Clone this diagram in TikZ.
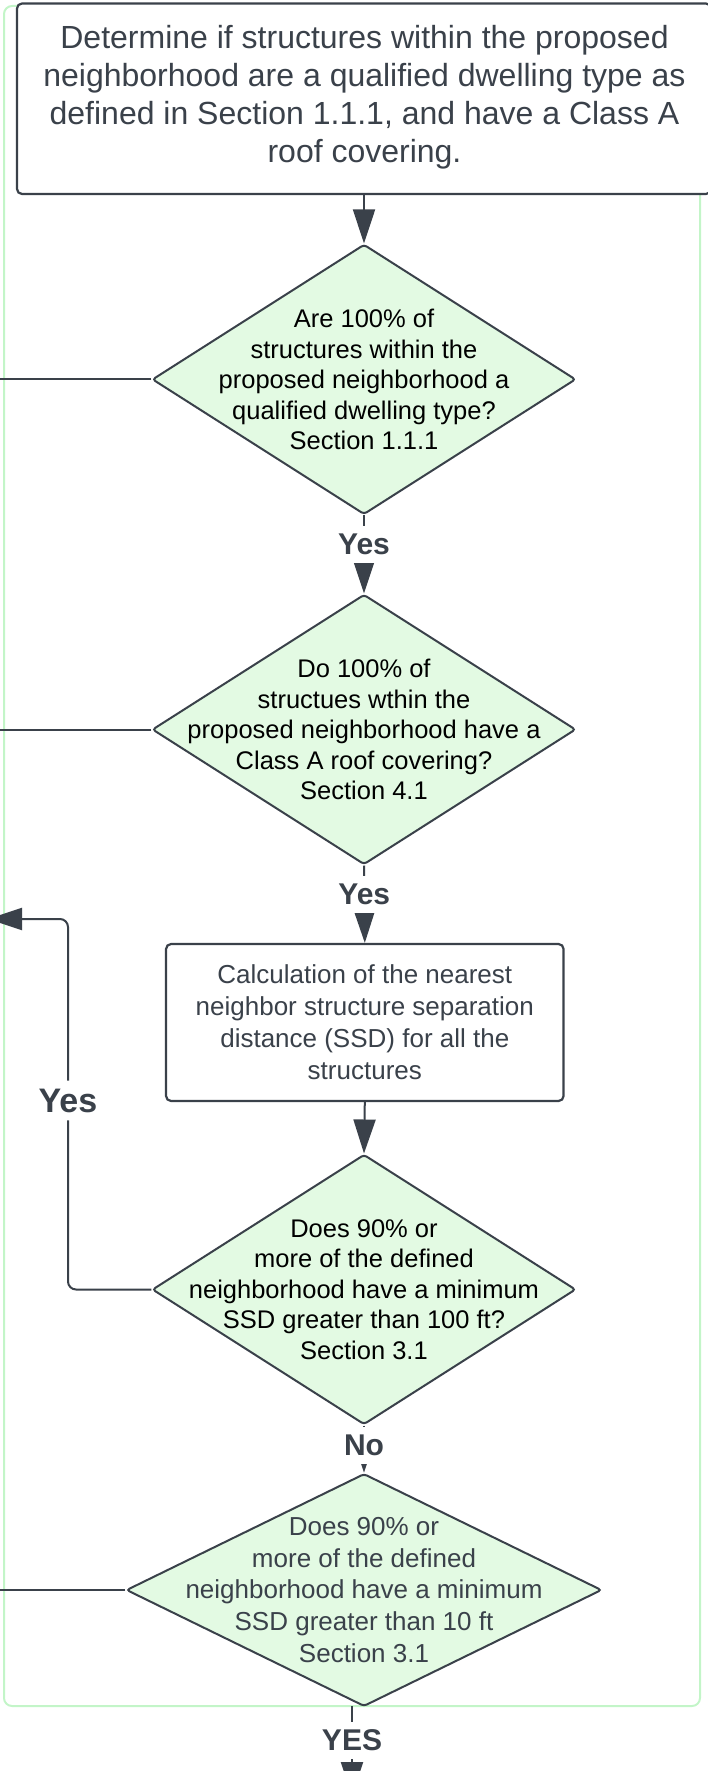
\documentclass[tikz,border=0pt]{standalone}
\usepackage{fontspec}
\setmainfont{Liberation Sans}
\usetikzlibrary{arrows.meta,shapes.geometric}
\definecolor{ink}{RGB}{58,65,74}
\definecolor{dfill}{RGB}{227,250,227}
\definecolor{framegreen}{RGB}{195,245,200}
\begin{document}
\begin{tikzpicture}[x=1pt,y=-1pt,
  conn/.style={draw=ink, line width=2pt, -{Triangle[length=34pt,width=22pt]}},
  plain/.style={draw=ink, line width=2pt},
  dia/.style={diamond, draw=ink, line width=2pt, fill=dfill, minimum width=423.5pt, minimum height=270pt, inner sep=0pt, rounded corners=3pt},
  dtext/.style={align=center, font=\fontsize{25.5}{30.5}\selectfont, text=black, inner sep=0pt},
  proc/.style={rectangle, draw=ink, line width=2.2pt, fill=white, rounded corners=5pt, inner sep=0pt},
  lbl/.style={fill=white, inner xsep=5pt, inner ysep=8pt, font=\fontsize{30}{30}\selectfont\bfseries, text=ink}
]
\useasboundingbox (0,0) rectangle (708,1771);
\clip (0,0) rectangle (708,1771);
% container frame
\draw[framegreen, line width=2pt, rounded corners=8pt] (4,6) rectangle (700,1706);

% top box
\node[proc, minimum width=694pt, minimum height=190.5pt] (top) at (364,98.75) {};
\node[align=center, font=\fontsize{32}{38}\selectfont, text=ink, inner sep=0pt] (toptext) at (364.5,97)
  {Determine if structures within the proposed\\neighborhood are a qualified dwelling type as\\defined in Section 1.1.1, and have a Class A\\roof covering.};

% diamond 1
\node[dia] (d1) at (364,379.4) {};
\node[dtext] (d1t) at (d1.center) {Are 100\% of\\structures within the\\proposed neighborhood a\\qualified dwelling type?\\Section 1.1.1};

% diamond 2
\node[dia] (d2) at (364,729.5) {};
\node[dtext] (d2t) at (d2.center) {Do 100\% of\\structues wthin the\\proposed neighborhood have a\\Class A roof covering?\\Section 4.1};

% box 2
\node[proc, minimum width=397.5pt, minimum height=157pt] (calc) at (364.8,1022.5) {};
\node[align=center, font=\fontsize{26}{32}\selectfont, text=ink, inner sep=0pt] (calct) at (calc.center)
  {Calculation of the nearest\\neighbor structure separation\\distance (SSD) for all the\\structures};

% diamond 3
\node[dia] (d3) at (364,1289.5) {};
\node[dtext] (d3t) at (d3.center) {Does 90\% or\\more of the defined\\neighborhood have a minimum\\SSD greater than 100 ft?\\Section 3.1};

% diamond 4
\node[dia, minimum width=475.4pt, minimum height=232.6pt] (d4) at (364,1590) {};
\node[dtext, text=ink, font=\fontsize{26}{31.8}\selectfont] (d4t) at (d4.center) {Does 90\% or\\more of the defined\\neighborhood have a minimum\\SSD greater than 10 ft\\Section 3.1};

% vertical connectors
\draw[conn] (top.south) -- (d1.north);
\draw[conn] (d1.south) -- node[lbl, pos=0.37] (y1) {Yes} (d2.north);
\draw[conn] (d2.south) -- node[lbl, pos=0.37] (y2) {Yes} (calc.north);
\draw[conn] (calc.south) -- (d3.north);
\draw[conn] (d3.south) -- node[lbl, pos=0.43] (n1) {No} (d4.north);

% left exits
\coordinate (d1l) at (-5,379.4);
\coordinate (d2l) at (-5,729.5);
\coordinate (d4l) at (-5,1590);
\draw[plain] (d1.west) -- (d1l);
\draw[plain] (d2.west) -- (d2l);
\draw[plain] (d4.west) -- (d4l);

% loop back
\coordinate (loopA) at (68,1289.5);
\coordinate (loopB) at (68,919);
\coordinate (loopEnd) at (-12,919);
\draw[conn, rounded corners=8pt] (d3.west) -- (loopA) -- node[lbl, pos=0.51, font=\fontsize{34}{34}\selectfont\bfseries] (yl) {Yes} (loopB) -- (loopEnd);

% bottom exit
\coordinate (d4o) at (352,1706);
\coordinate (endB) at (352,1796);
\draw[conn] (d4o) -- node[lbl, pos=0.38] (yb) {YES} (endB);
\end{tikzpicture}
\end{document}
